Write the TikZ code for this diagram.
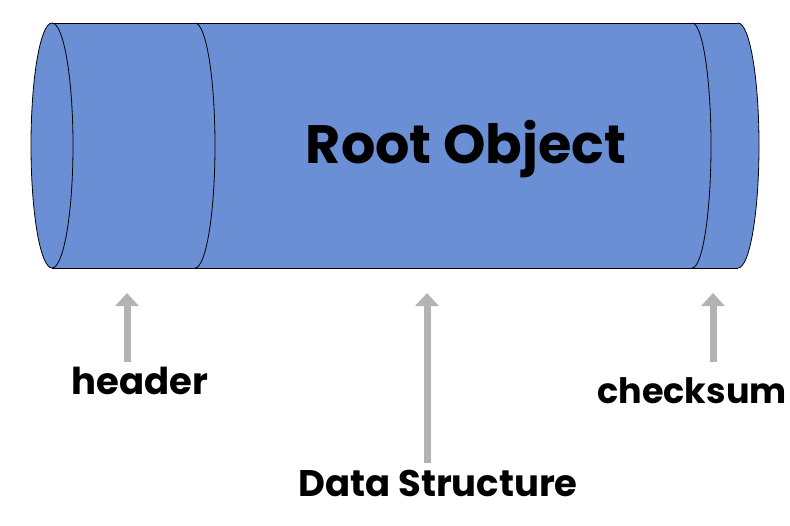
\documentclass[tikz,border=0pt]{standalone}
\usepackage{fontspec}
\setmainfont{Poppins}
\usetikzlibrary{arrows.meta}

\definecolor{cilindro}{RGB}{106,143,212}
\definecolor{freccia}{RGB}{179,179,179}

\tikzset{
  bordo/.style={draw=black, line width=.8pt},
  puntatore/.style={draw=freccia, line width=7pt, -{Triangle[length=13pt,width=23pt]}},
  etichetta/.style={font=\fontsize{37}{40}\selectfont\bfseries, anchor=base, inner sep=0pt},
}

\begin{document}
\begin{tikzpicture}[x=1pt,y=-1pt]
\useasboundingbox (0,0) rectangle (790,525);

\begin{scope}
\pgfmathsetmacro{\raggiox}{21}
\pgfmathsetmacro{\raggioy}{122.5}
\coordinate (sx) at (52,145.5);

% corpo del cilindro
\fill[cilindro] (52,23) -- (738,23) arc[start angle=90, end angle=-90, x radius=\raggiox, y radius=-\raggioy]
  -- (52,268) arc[start angle=-90, end angle=-270, x radius=\raggiox, y radius=-\raggioy] -- cycle;
\draw[bordo] (52,23) -- (738,23) (52,268) -- (738,268);
\draw[bordo] (sx) ellipse[x radius=\raggiox, y radius=\raggioy];
\draw[bordo] (195,23) arc[start angle=90, end angle=-90, x radius=20, y radius=-\raggioy];
\draw[bordo] (692,23) arc[start angle=90, end angle=-90, x radius=19, y radius=-\raggioy];
\draw[bordo] (738,23) arc[start angle=90, end angle=-90, x radius=\raggiox, y radius=-\raggioy];

\node[etichetta, font=\fontsize{54}{60}\selectfont\bfseries] (root) at (466,163) {Root Object};
\end{scope}

% etichette e frecce
\node[etichetta] (header) at (140,394) {header};
\node[etichetta] (dati) at (438,496) {Data Structure};
\node[etichetta, font=\fontsize{35}{40}\selectfont\bfseries] (checksum) at (692,403) {checksum};

\coordinate (ha) at (127,362);
\coordinate (hb) at (127,293);
\coordinate (da) at (427,463);
\coordinate (db) at (427,293);
\coordinate (ca) at (713,362);
\coordinate (cb) at (713,293);

\draw[puntatore] (ha) -- (hb);
\draw[puntatore] (da) -- (db);
\draw[puntatore] (ca) -- (cb);

\end{tikzpicture}
\end{document}
